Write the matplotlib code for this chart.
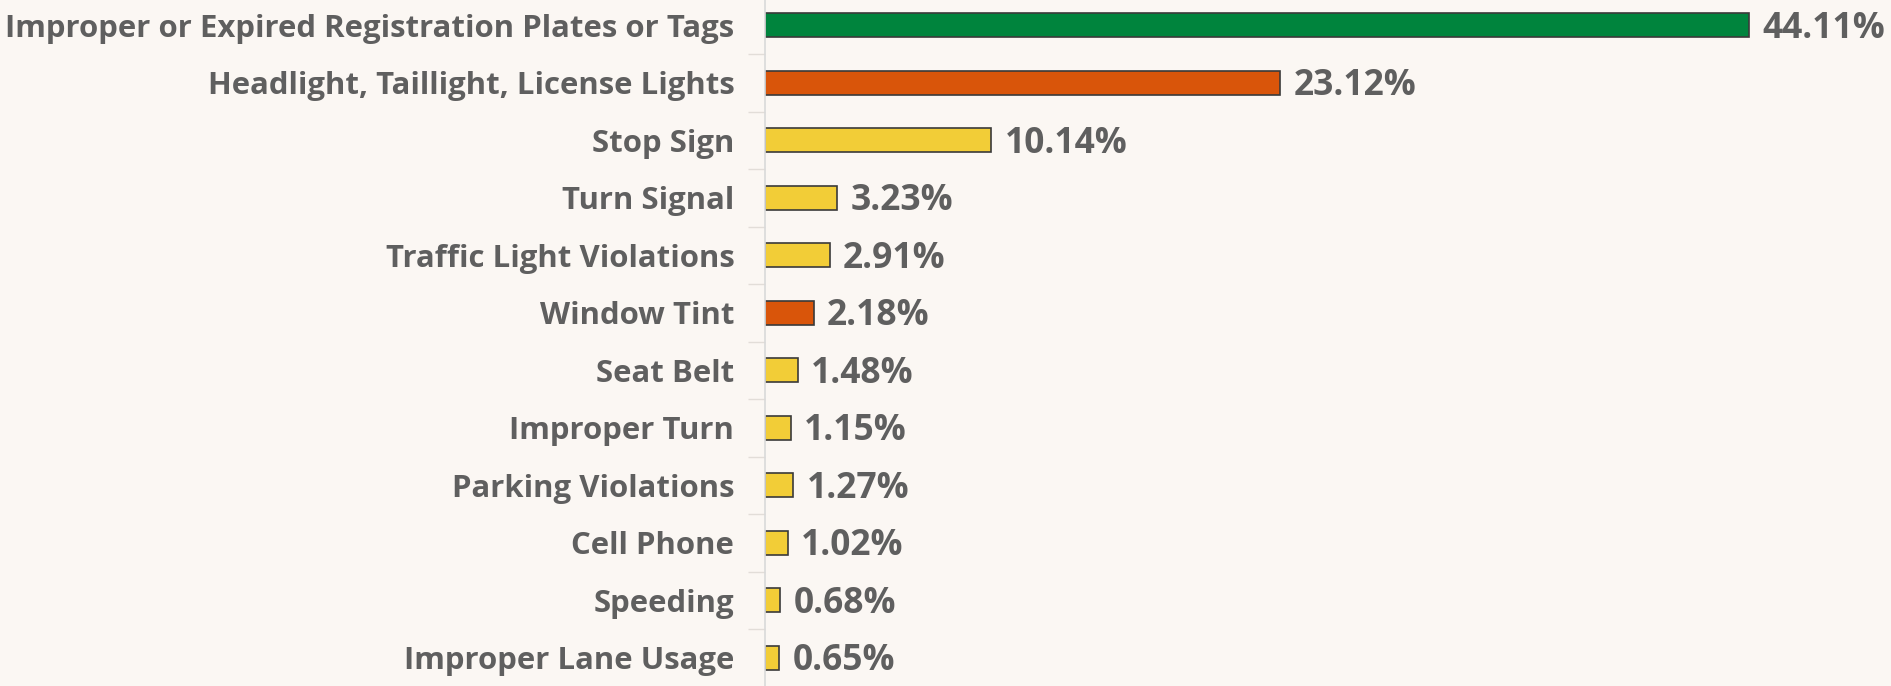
import matplotlib
matplotlib.use("Agg")
import matplotlib.pyplot as plt
import numpy as np

categories = ["Improper or Expired Registration Plates or Tags",
              "Headlight, Taillight, License Lights",
              "Stop Sign", "Turn Signal", "Traffic Light Violations",
              "Window Tint", "Seat Belt", "Improper Turn",
              "Parking Violations", "Cell Phone", "Speeding",
              "Improper Lane Usage"]
values = [44.11, 23.12, 10.14, 3.23, 2.91, 2.18, 1.48, 1.15, 1.27, 1.02, 0.68, 0.65]
colors = ["#00843D", "#D9550A", "#F2CD37", "#F2CD37", "#F2CD37", "#D9550A",
          "#F2CD37", "#F2CD37", "#F2CD37", "#F2CD37", "#F2CD37", "#F2CD37"]

bg = "#FBF7F3"
txt = "#5F5F5F"
fig = plt.figure(figsize=(18.91, 6.86), dpi=100, facecolor=bg)
ax = fig.add_axes([0.4045, -0.001, 0.5955, 1.006], facecolor=bg)
y = np.arange(len(categories))
ax.barh(y, values, height=0.42, color=colors, edgecolor="#3a3a3a", linewidth=1.2)
ax.set_ylim(len(categories) - 0.5, -0.5)
ax.set_xlim(0, 50.5)
for yi, v in zip(y, values):
    ax.text(v + 0.6, yi + 0.06, f"{v:.2f}%", va="center", ha="left",
            fontsize=25.5, fontweight="bold", color=txt, family="Open Sans")
ax.set_yticks(y)
ax.set_yticklabels(categories, fontsize=22.4, fontweight="bold", color=txt, family="Open Sans")
ax.set_yticks(np.arange(len(categories) + 1) - 0.5, minor=True)
ax.tick_params(axis="y", which="major", length=0, pad=22)
ax.tick_params(axis="y", which="minor", length=12, color="#E2DDD8", width=1)
ax.set_xticks([])
for s in ["top", "right", "bottom"]:
    ax.spines[s].set_visible(False)
ax.spines["left"].set_color("#D9D9D9")
ax.spines["left"].set_linewidth(1.2)
fig.savefig("out.png", dpi=100, facecolor=bg)
